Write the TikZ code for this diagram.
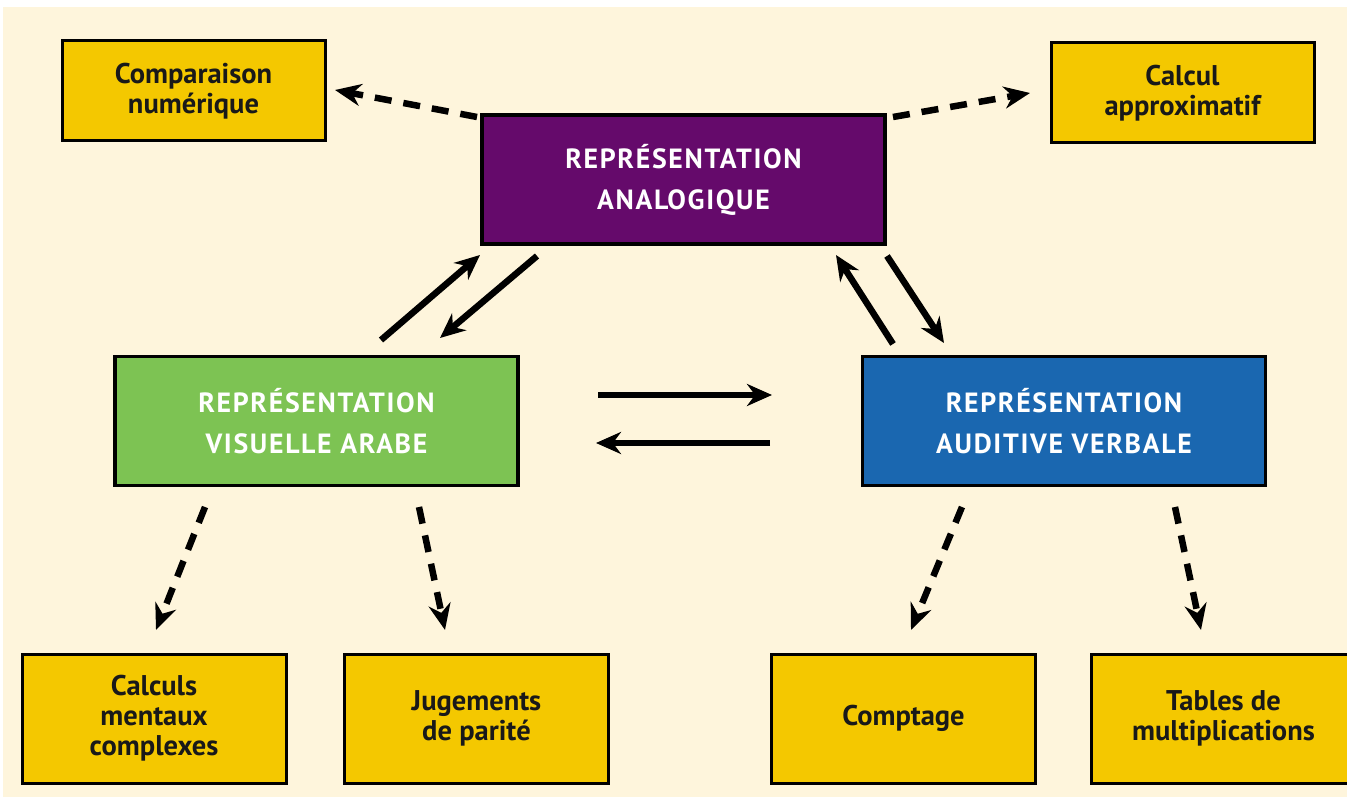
\documentclass[tikz,border=0pt]{standalone}
\usepackage{fontspec}
\setmainfont{PT Sans}
\newfontfamily\mainsp[LetterSpace=6]{PT Sans}
\usetikzlibrary{arrows.meta}
\definecolor{cream}{HTML}{FEF5DC}
\definecolor{jaune}{HTML}{F4C800}
\definecolor{violet}{HTML}{650A6B}
\definecolor{vert}{HTML}{7DC353}
\definecolor{bleu}{HTML}{1A67B0}
\tikzset{
  bigbox/.style={draw=black, line width=3.5pt, minimum width=403pt, minimum height=129pt,
    inner sep=0pt, align=center, text=white, font=\mainsp\bfseries\fontsize{27.8}{41}\selectfont},
  smallbox/.style={draw=black, line width=3pt, fill=jaune, minimum width=263pt, minimum height=100pt,
    inner sep=0pt, align=center, text=black!90, font=\bfseries\fontsize{28.5}{30}\selectfont},
  lowbox/.style={smallbox, minimum width=264pt, minimum height=129pt},
  solidarrow/.style={line width=6.5pt, -{Stealth[length=25pt,width=22pt]}},
  dasharrow/.style={line width=6.5pt, dash pattern=on 17pt off 12pt, -{Stealth[length=26pt,width=22pt]}},
}
\begin{document}
\begin{tikzpicture}[x=1pt,y=-1pt]
\useasboundingbox (0,0) rectangle (1347,799);
\fill[white] (0,0) rectangle (1347,799);
\fill[cream] (3,7) rectangle (1347,797);
\begin{scope}
\clip (0,0) rectangle (1347,799);
% main boxes
\node[bigbox, fill=violet] (ana) at (683.5,179.5) {REPRÉSENTATION\\ANALOGIQUE};
\node[bigbox, fill=vert] (vis) at (316.5,421) {REPRÉSENTATION\\VISUELLE ARABE};
\node[bigbox, fill=bleu] (aud) at (1064,421) {REPRÉSENTATION\\AUDITIVE VERBALE};
% task boxes
\node[smallbox] (cmp) at (193.5,91) {Comparaison\\numérique};
\node[smallbox] (cal) at (1182.5,93) {Calcul\\approximatif};
\node[lowbox] (cmc) at (154,718.5) {Calculs\\mentaux\\complexes};
\node[lowbox] (jug) at (476.5,718.5) {Jugements\\de parité};
\node[lowbox] (cpt) at (903.5,718.5) {Comptage};
\node[lowbox] (tab) at (1223.5,718.5) {Tables de\\multiplications};
\end{scope}
% connector end points
\coordinate (a1) at (477,117);   \coordinate (c1) at (335,90);
\coordinate (a2) at (893,117);   \coordinate (c2) at (1030,93);
\coordinate (v1) at (381,340);   \coordinate (a3) at (480,255);
\coordinate (a4) at (537,256);   \coordinate (v2) at (440,338);
\coordinate (u1) at (893,344);   \coordinate (a5) at (836,255);
\coordinate (a6) at (887,256);   \coordinate (u2) at (944,343);
\coordinate (v3) at (598,395);   \coordinate (u3) at (772,395);
\coordinate (u4) at (770,443);   \coordinate (v4) at (596,443);
\coordinate (v5) at (205,507);   \coordinate (m1) at (156,630);
\coordinate (v6) at (419,507);   \coordinate (j1) at (445,630);
\coordinate (u5) at (962,507);   \coordinate (p1) at (911,630);
\coordinate (u6) at (1175,507);  \coordinate (t1) at (1201,630);
% connectors
\draw[dasharrow] (a1) -- (c1);
\draw[dasharrow] (a2) -- (c2);
\draw[solidarrow] (v1) -- (a3);
\draw[solidarrow] (a4) -- (v2);
\draw[solidarrow] (u1) -- (a5);
\draw[solidarrow] (a6) -- (u2);
\draw[solidarrow] (v3) -- (u3);
\draw[solidarrow] (u4) -- (v4);
\draw[dasharrow] (v5) -- (m1);
\draw[dasharrow] (v6) -- (j1);
\draw[dasharrow] (u5) -- (p1);
\draw[dasharrow] (u6) -- (t1);
\end{tikzpicture}
\end{document}
